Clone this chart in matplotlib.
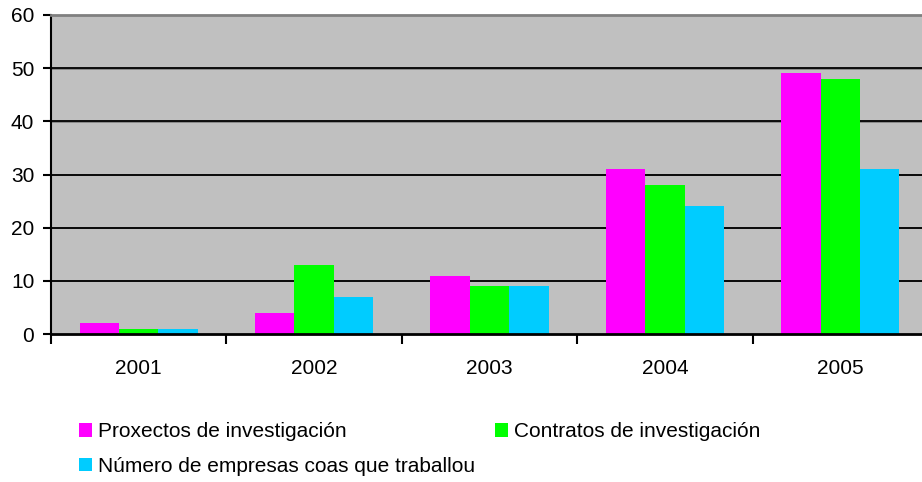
import matplotlib.pyplot as plt
import numpy as np

plt.rcParams['font.family'] = ['Liberation Sans', 'DejaVu Sans']

years = ["2001", "2002", "2003", "2004", "2005"]
proxectos = [2, 4, 11, 31, 49]
contratos = [1, 13, 9, 28, 48]
empresas = [1, 7, 9, 24, 31]
labels = ["Proxectos de investigación", "Contratos de investigación",
          "Número de empresas coas que traballou"]
colors = ["#FF00FF", "#00FF00", "#00CCFF"]

fig = plt.figure(figsize=(9.22, 4.82), dpi=100)
ax = fig.add_axes([51/922, 148/482, 877/922, 319/482])
ax.set_facecolor("#C0C0C0")

x = np.arange(len(years))
w = 0.225
bars = []
for i, (vals, c) in enumerate(zip([proxectos, contratos, empresas], colors)):
    bars.append(ax.bar(x + (i - 1) * w, vals, w, color=c, zorder=3))

ax.set_xlim(-0.5, 4.5)
ax.set_ylim(0, 60)
ax.set_yticks(range(0, 61, 10))
ax.set_xticks(x)
ax.set_xticklabels(years)
ax.set_xticks(np.arange(-0.5, 5, 1), minor=True)
ax.tick_params(axis='x', which='major', length=0, pad=18, labelsize=15)
ax.tick_params(axis='x', which='minor', length=7, width=1.5, direction='out')
ax.tick_params(axis='y', length=6, width=1.5, labelsize=15, pad=6)

for v in range(10, 60, 10):
    ax.axhline(v - 0.12, color="#808080", lw=1.2, zorder=1)
    ax.axhline(v, color="black", lw=1.3, zorder=2)

ax.spines['top'].set_color("#808080")
ax.spines['top'].set_linewidth(2)
ax.spines['right'].set_visible(False)
ax.spines['left'].set_linewidth(1.5)
ax.spines['bottom'].set_linewidth(2)
ax.spines['bottom'].set_zorder(4)

# order so that entries fill row by row
fig.legend([bars[0], bars[2], bars[1]], [labels[0], labels[2], labels[1]],
           loc='upper left', bbox_to_anchor=(71/922, 1 - 414/482), ncol=2,
           frameon=False, fontsize=15, handlelength=0.6, handleheight=0.6,
           handletextpad=0.3, columnspacing=0.95, labelspacing=0.75,
           borderaxespad=0)

fig.savefig("out.png", dpi=100)
